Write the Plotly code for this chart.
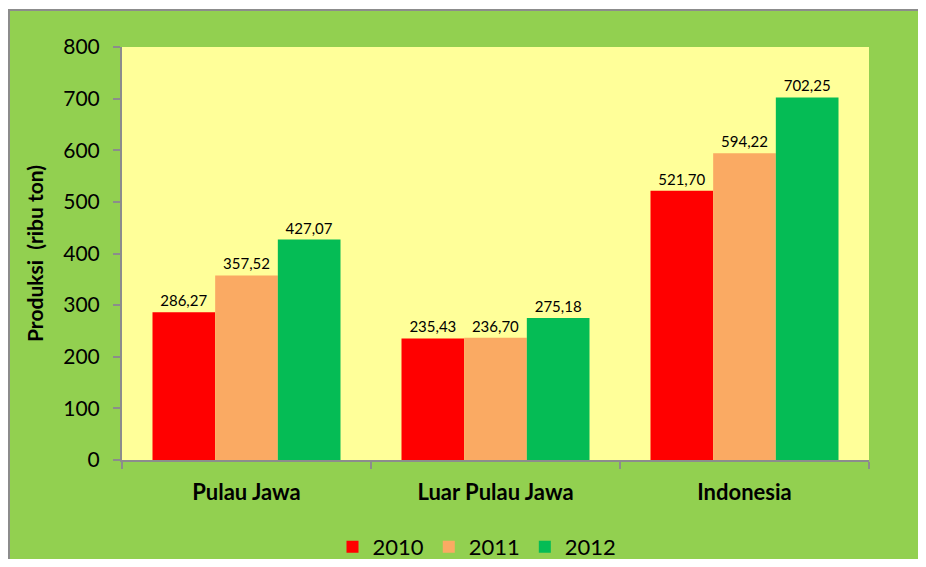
import plotly.graph_objects as go

categories = ["Pulau Jawa", "Luar Pulau Jawa", "Indonesia"]
years = ["2010", "2011", "2012"]
v2010 = [286.27, 235.43, 521.70]
v2011 = [357.52, 236.70, 594.22]
v2012 = [427.07, 275.18, 702.25]
series = [v2010, v2011, v2012]
colors = ["#FF0000", "#FAAA63", "#05BC55"]
yticks = [0, 100, 200, 300, 400, 500, 600, 700, 800]

FONT = "Lato"

fig = go.Figure()
for name, vals, col in zip(years, series, colors):
    fig.add_trace(go.Bar(
        x=categories, y=vals, name=name,
        marker=dict(color=col, line=dict(width=0)),
        texttemplate="%{y:.2f}", textposition="outside",
        textfont=dict(family=FONT, size=15, color="black"),
        cliponaxis=False,
    ))

# page is offset by 8px body margin; keep height within viewport to avoid scrollbars
W, H = 918, 551
L, T = 114, 39
R = W - 861
B = H - 452
pw = W - L - R
ph = H - T - B

def px_x(p):
    return (p - L) / pw

def px_y(p):
    return (H - B - p) / ph

fig.update_layout(
    template="none",
    width=W, height=H,
    margin=dict(l=L, r=R, t=T, b=B, pad=0, autoexpand=False),
    paper_bgcolor="#92D050",
    plot_bgcolor="#FFFF99",
    separators=",.",
    barmode="group",
    bargap=0.245,
    bargroupgap=0,
    font=dict(family=FONT, color="black"),
    showlegend=True,
    legend=dict(
        orientation="h", xref="container", yref="container",
        x=469 / W, xanchor="center", y=1 - 539 / H, yanchor="middle",
        font=dict(family=FONT, size=22, color="black"),
        bgcolor="rgba(0,0,0,0)", borderwidth=0, traceorder="normal",
        itemwidth=30, tracegroupgap=0,
    ),
    xaxis=dict(
        automargin=False,
        showline=True, linecolor="#8C8C8C", linewidth=2,
        ticks="outside", tickson="boundaries", ticklen=7, tickcolor="#8C8C8C", tickwidth=2,
        tickfont=dict(family=FONT, size=22, color="black", weight="bold"),
        ticklabelstandoff=12,
        showgrid=False, zeroline=False,
    ),
    yaxis=dict(
        automargin=False,
        range=[0, 800], tickvals=yticks, ticktext=[str(v) for v in yticks],
        showline=True, linecolor="#8C8C8C", linewidth=2,
        ticks="outside", ticklen=7, tickcolor="#8C8C8C", tickwidth=2,
        tickfont=dict(family=FONT, size=21, color="black"),
        ticklabelstandoff=9,
        showgrid=False, zeroline=False,
        title=dict(text="Produksi  (ribu ton)", standoff=14,
                   font=dict(family=FONT, size=21, color="black", weight="bold")),
    ),
    shapes=[
        dict(type="rect", xref="paper", yref="paper", layer="above",
             x0=px_x(-20), x1=px_x(W + 20), y0=px_y(2), y1=px_y(-20),
             fillcolor="white", line=dict(width=0)),
        dict(type="line", xref="paper", yref="paper", layer="above",
             x0=px_x(0), x1=px_x(W + 5), y0=px_y(2), y1=px_y(2),
             line=dict(color="#8C8C8C", width=2)),
        dict(type="line", xref="paper", yref="paper", layer="above",
             x0=px_x(1), x1=px_x(1), y0=px_y(2), y1=px_y(H + 5),
             line=dict(color="#8C8C8C", width=2)),
    ],
)

fig.write_html("out.html")
